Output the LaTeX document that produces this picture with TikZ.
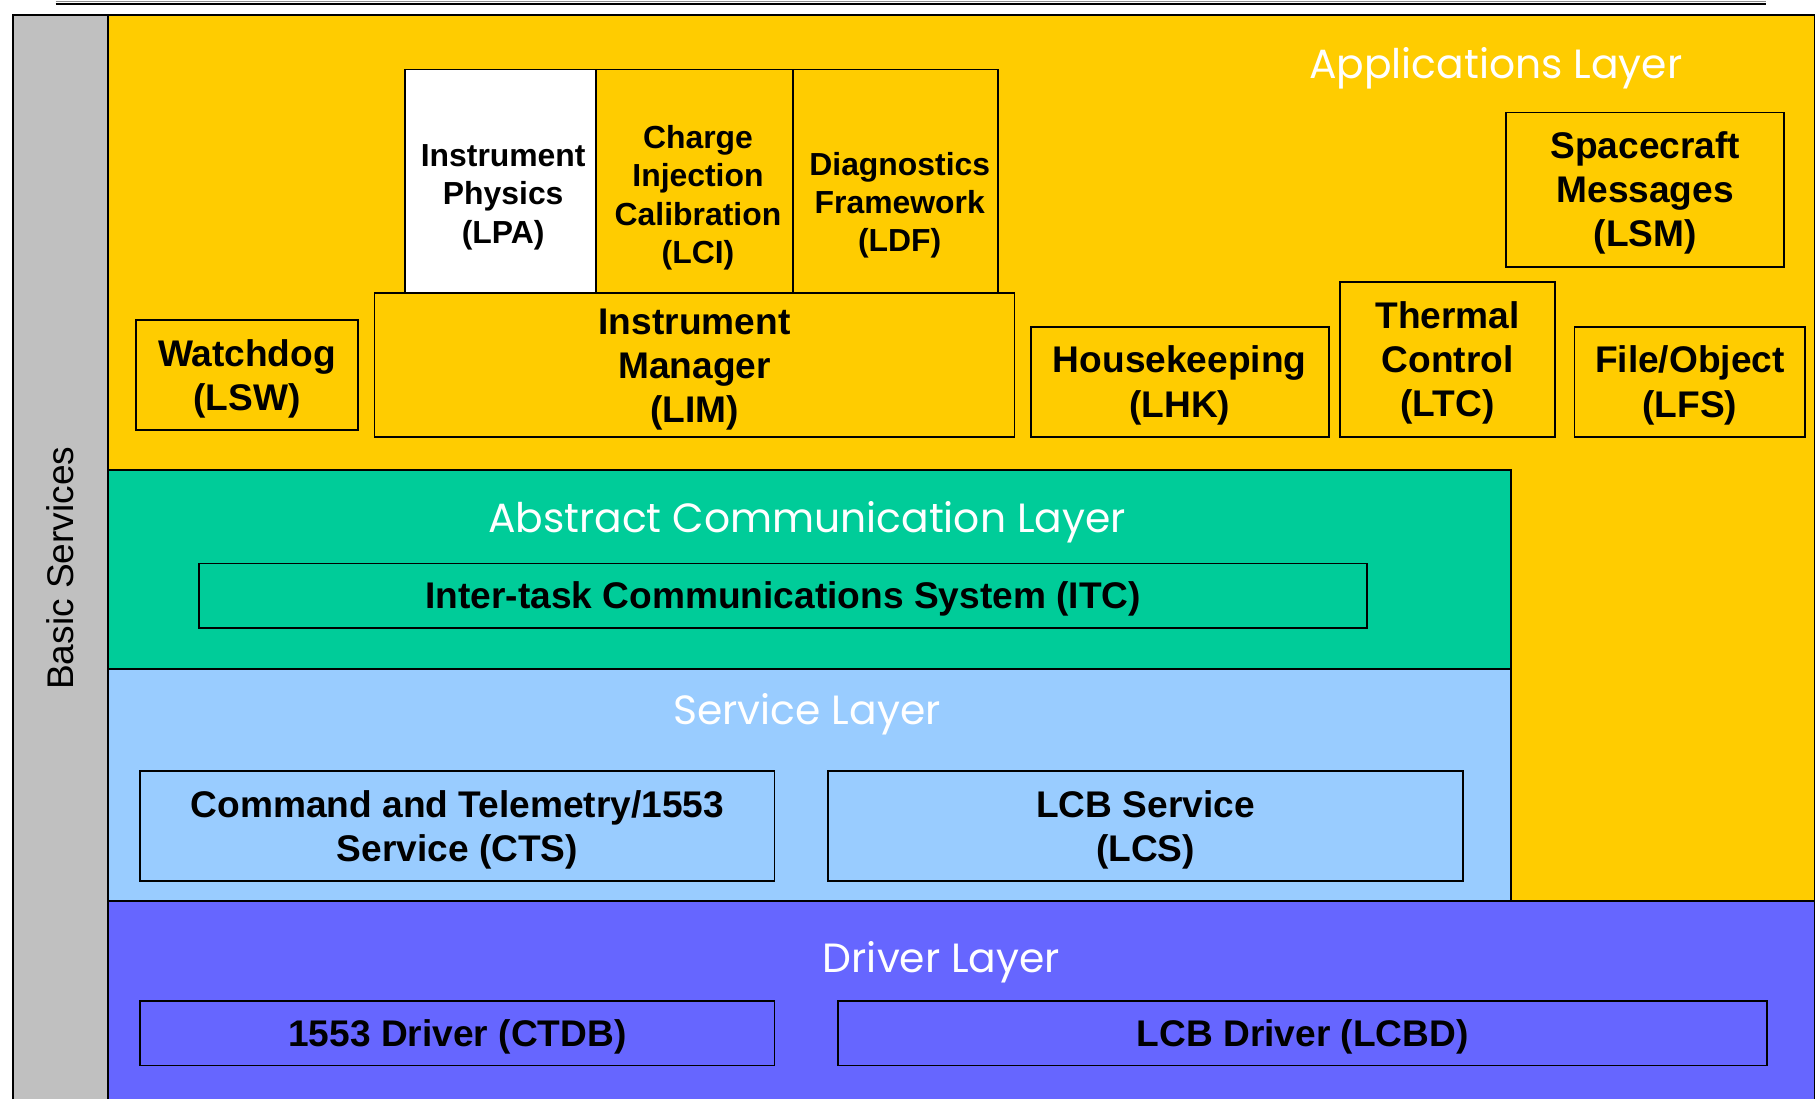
\documentclass[tikz,border=0pt]{standalone}
\usepackage{fontspec}
\setmainfont{Liberation Sans}
\newfontfamily\titlefont{Poppins}
\definecolor{appy}{HTML}{FFCC00}
\definecolor{aclg}{HTML}{00CC99}
\definecolor{svcb}{HTML}{99CCFF}
\definecolor{drvb}{HTML}{6666FF}
\definecolor{bsgray}{HTML}{C0C0C0}
\newcommand\btext[1]{\raisebox{-1.8pt}[\height][\depth]{\begin{tabular}{@{}c@{}}#1\end{tabular}}}
\tikzset{
  wh/.style 2 args={minimum width=#1*0.5pt, minimum height=#2*0.5pt},
  box/.style={draw=black, line width=0.8pt, inner sep=0pt, align=center,
    font=\fontsize{16}{19}\selectfont\bfseries},
  smallbox/.style={box, font=\fontsize{13.75}{16.5}\selectfont\bfseries},
  smalltxt/.style={align=center, inner sep=0pt, font=\fontsize{13.75}{16.5}\selectfont\bfseries},
  layertitle/.style={text=white, inner sep=0pt, font=\titlefont\fontsize{17.6}{21}\selectfont},
  frame/.style={draw=black, line width=0.8pt},
}
\begin{document}
\begin{tikzpicture}[x=0.5pt, y=-0.5pt]
\useasboundingbox (0,0) rectangle (1568,948);
% top rule
\draw[black!45, line width=0.5pt] (48,1.2) -- (1523,1.2);
\draw[black, line width=1pt] (48,3.6) -- (1523,3.6);
% layer backgrounds
\fill[appy] (93,13) rectangle (1565,777);
\fill[bsgray] (11,13) rectangle (93,948);
\fill[aclg] (93,405) rectangle (1303,577);
\fill[svcb] (93,577) rectangle (1303,777);
\fill[drvb] (93,777) rectangle (1565,948);
% layer borders
\draw[frame] (11,948) -- (11,13) -- (1565,13) -- (1565,948);
\draw[frame] (93,13) -- (93,948);
\draw[frame] (93,405) -- (1303,405) -- (1303,777);
\draw[frame] (93,577) -- (1303,577);
\draw[frame] (93,777) -- (1565,777);
% layer titles
\node[layertitle] (tapp) at (1290,59) {Applications Layer};
\node[layertitle] (tacl) at (696,450) {Abstract Communication Layer};
\node[layertitle] (tsvc) at (696,616) {Service Layer};
\node[layertitle] (tdrv) at (812,830) {Driver Layer};
\node[rotate=90, inner sep=0pt, font=\fontsize{16}{19}\selectfont] (tbs) at (52,490) {Basic Services};
% application boxes
\node[box, wh={192}{95}] (lsw) at (213,323.5) {\btext{Watchdog\\(LSW)}};
\node[box, wh={552}{124}] (lim) at (599,315) {\btext{Instrument\\Manager\\(LIM)}};
\node[smallbox, fill=white, wh={165}{193}] (lpa) at (431.5,156.5) {};
\node[smallbox, wh={170}{193}] (lci) at (599,156.5) {};
\node[smallbox, wh={177}{193}] (ldf) at (772.5,156.5) {};
\node[smalltxt] (lpat) at (434,170) {Instrument\\Physics\\(LPA)};
\node[smalltxt] (lcit) at (602,170.5) {Charge\\Injection\\Calibration\\(LCI)};
\node[smalltxt] (ldft) at (776,177) {Diagnostics\\Framework\\(LDF)};
\node[box, wh={257}{95}] (lhk) at (1017.5,329.5) {\btext{Housekeeping\\(LHK)}};
\node[box, wh={185}{134}] (ltc) at (1248.5,310) {\btext{Thermal\\Control\\(LTC)}};
\node[box, wh={240}{133}] (lsm) at (1419,163.5) {\btext{Spacecraft\\Messages\\(LSM)}};
\node[box, wh={199}{95}] (lfs) at (1457.5,329.5) {\btext{File/Object\\(LFS)}};
% communication
\node[box, wh={1007}{56}] (itc) at (675.5,514) {\btext{Inter-task Communications System (ITC)}};
% service
\node[box, wh={547}{95}] (cts) at (394.5,712.5) {\btext{Command and Telemetry/1553\\Service (CTS)}};
\node[box, wh={548}{95}] (lcs) at (988,712.5) {\btext{LCB Service\\(LCS)}};
% driver
\node[box, wh={547}{56}] (ctdb) at (394.5,891) {\btext{1553 Driver (CTDB)}};
\node[box, wh={801}{56}] (lcbd) at (1123.5,891) {\btext{LCB Driver (LCBD)}};
\end{tikzpicture}
\end{document}
